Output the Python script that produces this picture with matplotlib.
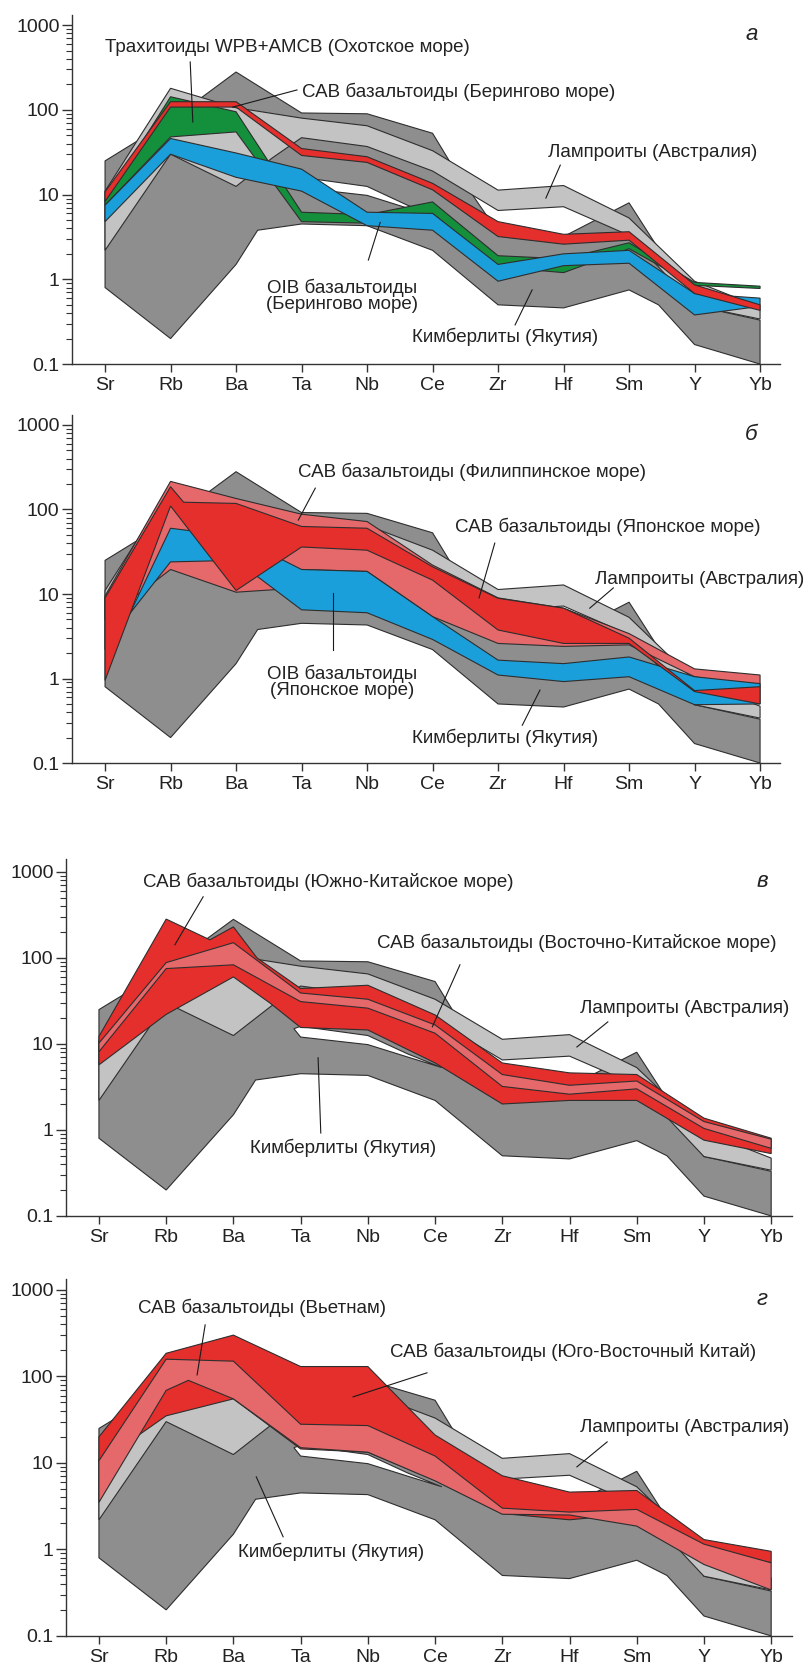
import matplotlib
matplotlib.use("Agg")
import matplotlib.pyplot as plt
from matplotlib.ticker import FixedLocator, FixedFormatter, NullFormatter

plt.rcParams['font.family'] = ['Liberation Sans', 'DejaVu Sans']

# Spider diagram, elements on the x axis
elements = ["Sr", "Rb", "Ba", "Ta", "Nb", "Ce", "Zr", "Hf", "Sm", "Y", "Yb"]
pos = list(range(len(elements)))

# Reference fields, same in every panel
# Kimberlites (Yakutia) - dark grey envelope
kimb_up_x = [0, 1, 2, 3, 4, 5, 5.27, 6, 7, 8, 8.5, 9, 10]
kimb_up = [25, 75, 280, 92, 90, 53, 24, 3.6, 3.2, 8.0, 2.0, 0.49, 0.33]
kimb_lo_x = [0, 1, 2, 2.33, 3, 4, 5, 6, 7, 8, 8.45, 9, 10]
kimb_lo = [0.8, 0.2, 1.5, 3.8, 4.5, 4.3, 2.2, 0.5, 0.46, 0.75, 0.5, 0.17, 0.1]

# unfilled sliver inside the kimberlite field
gap_x = [2.9, 3, 4, 4.6, 5.1]
gap_up = [15, 16, 12.5, 7.6, 5.3]
gap_lo = [15, 12, 9.8, 7.0, 5.3]

# Lamproites (Australia) - light grey
lamp_up = [11, 180, 106, 80, 65, 33, 11.3, 12.8, 5.3, 0.95, 0.47]
lamp_lo_x = [0, 1, 2, 2.55, 3, 4, 5, 6, 7, 8, 9, 10]
lamp_lo = [2.2, 30, 12.5, 27, 47, 37, 19, 6.5, 7.2, 3.3, 0.49, 0.34]

# Panel a
a_green_up = [8.5, 143, 95, 6.2, 5.8, 8.2, 1.9, 1.75, 2.7, 0.92, 0.83]
a_green_lo = [7.5, 48, 55, 4.8, 4.6, 6.0, 1.4, 1.2, 2.3, 0.85, 0.78]
a_blue_up = [7.5, 46, 31, 20, 6.2, 6.0, 1.5, 2.0, 2.2, 0.68, 0.6]
a_blue_lo = [4.8, 30, 16, 11, 4.3, 3.8, 0.95, 1.45, 1.55, 0.38, 0.48]
a_red_up = [10.8, 125, 125, 35, 28, 13.6, 4.8, 3.4, 3.65, 0.86, 0.5]
a_red_lo = [8.3, 108, 108, 29, 24, 11.4, 3.2, 2.6, 2.9, 0.68, 0.43]

# Panel b
b_pink_up = [9.5, 215, 135, 88, 72, 22, 9, 6.8, 3.4, 1.3, 1.1]
b_pink_lo_x = [0, 1, 2, 2.62, 3, 4, 5, 6, 7, 8, 9, 10]
b_pink_lo = [5.0, 19.5, 10.5, 11.3, 19.5, 18.5, 5.4, 2.6, 2.4, 2.5, 1.05, 0.8]
b_blue_x = [0.38, 1, 2, 3, 4, 5, 6, 7, 8, 9, 10]
b_blue_up = [5.9, 60, 48, 19.5, 18.5, 5.4, 1.65, 1.5, 1.8, 1.05, 0.87]
b_blue_lo = [5.9, 24, 25, 6.5, 6.0, 2.9, 1.1, 0.92, 1.05, 0.49, 0.5]
b_red_up_x = [0, 1, 1.2, 2, 3, 4, 5, 6, 7, 8, 9, 10]
b_red_up = [9, 186, 122, 118, 63, 60, 21, 8.9, 6.8, 3.0, 0.72, 0.8]
b_red_lo = [0.95, 110, 11, 36, 33, 14.6, 3.75, 2.6, 2.6, 0.7, 0.5]

# Panel c
c_red_up_x = [0, 1, 1.65, 2, 2.35, 3, 4, 5, 6, 7, 8, 9, 10]
c_red_up = [12.2, 282, 162, 229, 100, 44, 48, 21.7, 6.0, 4.6, 4.4, 1.37, 0.8]
c_red_lo_x = [0, 1, 2, 2.54, 3, 4, 5, 6, 7, 8, 9, 10]
c_red_lo = [5.7, 22, 60, 30, 15.5, 14.5, 6.0, 2.0, 2.2, 2.2, 0.76, 0.53]
c_pink_up = [10.2, 88, 150, 39, 33, 16.6, 4.4, 3.3, 3.7, 1.25, 0.78]
c_pink_lo = [8.1, 75, 83, 31, 26, 13.3, 3.2, 2.6, 3.0, 1.04, 0.61]

# Panel d
d_red_up = [20, 185, 300, 130, 130, 21, 7.1, 4.6, 4.8, 1.3, 0.95]
d_red_lo = [10, 35, 55, 14.5, 13.3, 6.3, 2.6, 2.2, 2.6, 1.05, 0.7]
d_pink_up = [10.6, 158, 150, 28, 27, 12, 3.0, 2.7, 2.9, 1.15, 0.7]
d_pink_lo_x = [0, 1, 1.33, 2, 3, 4, 5, 6, 7, 8, 9, 10]
d_pink_lo = [3.5, 69, 90, 55, 15, 13.3, 6.2, 2.55, 2.5, 1.86, 0.67, 0.34]

# colours
DARK = "#8e8e8e"
LIGHT = "#c3c3c3"
RED = "#e42f2c"
PINK = "#e5686b"
GREEN = "#14903c"
BLUE = "#1a9fdb"
EDGE = "#2e2e2e"
TXT = "#222222"


def field(ax, xu, yu, xl, yl, color, z):
    xs = list(xu) + list(xl)[::-1]
    ys = list(yu) + list(yl)[::-1]
    ax.fill(xs, ys, facecolor=color, edgecolor=EDGE, linewidth=0.8, zorder=z)


def base_fields(ax):
    field(ax, kimb_up_x, kimb_up, kimb_lo_x, kimb_lo, DARK, 1)
    field(ax, gap_x, gap_up, gap_x, gap_lo, "white", 1.5)
    field(ax, pos, lamp_up, lamp_lo_x, lamp_lo, LIGHT, 2)


panels = [
    [(pos, a_green_up, pos, a_green_lo, GREEN),
     (pos, a_blue_up, pos, a_blue_lo, BLUE),
     (pos, a_red_up, pos, a_red_lo, RED)],
    [(pos, b_pink_up, b_pink_lo_x, b_pink_lo, PINK),
     (b_blue_x, b_blue_up, b_blue_x, b_blue_lo, BLUE),
     (b_red_up_x, b_red_up, pos, b_red_lo, RED)],
    [(c_red_up_x, c_red_up, c_red_lo_x, c_red_lo, RED),
     (pos, c_pink_up, pos, c_pink_lo, PINK)],
    [(pos, d_red_up, pos, d_red_lo, RED),
     (pos, d_pink_up, d_pink_lo_x, d_pink_lo, PINK)],
]

# labels: text, x, y, ha ; pointers: (x0, y0, x1, y1)
labels = [
    [("Трахитоиды WPB+AMCB (Охотское море)", 0.0, 538, "left"),
     ("САВ базальтоиды (Берингово море)", 3.01, 163, "left"),
     ("Лампроиты (Австралия)", 6.76, 31, "left"),
     ("OIB базальтоиды\n(Берингово море)", 3.62, 0.635, "center"),
     ("Кимберлиты (Якутия)", 4.69, 0.208, "left")],
    [("САВ базальтоиды (Филиппинское море)", 2.95, 278, "left"),
     ("САВ базальтоиды (Японское море)", 5.34, 62, "left"),
     ("Лампроиты (Австралия)", 7.48, 14.7, "left"),
     ("OIB базальтоиды\n(Японское море)", 3.62, 0.91, "center"),
     ("Кимберлиты (Якутия)", 4.69, 0.198, "left")],
    [("САВ базальтоиды (Южно-Китайское море)", 0.655, 765, "left"),
     ("САВ базальтоиды (Восточно-Китайское море)", 4.14, 149, "left"),
     ("Лампроиты (Австралия)", 7.16, 26, "left"),
     ("Кимберлиты (Якутия)", 2.25, 0.62, "left")],
    [("САВ базальтоиды (Вьетнам)", 0.58, 620, "left"),
     ("САВ базальтоиды (Юго-Восточный Китай)", 4.33, 192, "left"),
     ("Лампроиты (Австралия)", 7.16, 26, "left"),
     ("Кимберлиты (Якутия)", 2.07, 0.935, "left")],
]
pointers = [
    [(1.30, 368, 1.34, 72), (2.93, 172, 1.95, 108), (6.95, 22.3, 6.73, 9.1),
     (4.20, 4.7, 4.02, 1.69), (6.52, 0.75, 6.26, 0.29)],
    [(3.21, 179, 2.95, 75), (5.95, 40, 5.71, 9.0), (7.76, 11.8, 7.40, 6.8),
     (3.48, 10.3, 3.48, 2.17), (6.64, 0.73, 6.37, 0.28)],
    [(1.55, 512, 1.13, 142), (5.37, 83, 4.96, 15.8), (7.57, 18, 7.11, 9.2),
     (3.26, 6.9, 3.30, 0.92)],
    [(1.58, 394, 1.46, 104), (4.88, 110, 3.78, 58), (7.56, 17.5, 7.11, 9.0),
     (2.74, 1.4, 2.34, 6.9)],
]
letters = ["а", "б", "в", "г"]

fig = plt.figure(figsize=(8.04, 16.7), dpi=100)
rects = [
    (0.0896, 0.7820, 0.8806, 0.2090),
    (0.0896, 0.5431, 0.8806, 0.2084),
    (0.0821, 0.2719, 0.9030, 0.2138),
    (0.0821, 0.0204, 0.9030, 0.2138),
]
ytops = [1318, 1313, 1413, 1340]
xlims = [(-0.504, 10.305), (-0.504, 10.305), (-0.49, 10.31), (-0.49, 10.31)]

yticks = [0.1, 1, 10, 100, 1000]
yminor = [m * 10.0 ** e for e in range(-1, 3) for m in range(2, 10)]

for i, rect in enumerate(rects):
    ax = fig.add_axes(rect)
    ax.set_yscale("log")
    base_fields(ax)
    for k, (xu, yu, xl, yl, col) in enumerate(panels[i]):
        field(ax, xu, yu, xl, yl, col, 3 + k)

    for txt, x, y, ha in labels[i]:
        ax.text(x, y, txt, ha=ha, va="center", fontsize=13.5, color=TXT,
                linespacing=0.95, zorder=10)
    for x0, y0, x1, y1 in pointers[i]:
        ax.plot([x0, x1], [y0, y1], color="#1a1a1a", lw=0.8, zorder=11)
    ax.text(9.87, 766, letters[i], ha="center", va="center", fontsize=16,
            style="italic", color=TXT, zorder=10)

    ax.set_xlim(*xlims[i])
    ax.set_ylim(0.1, ytops[i])
    ax.set_xticks(pos)
    ax.set_xticklabels(elements)
    ax.yaxis.set_major_locator(FixedLocator(yticks))
    ax.yaxis.set_major_formatter(FixedFormatter(["0.1", "1", "10", "100", "1000"]))
    ax.yaxis.set_minor_locator(FixedLocator(yminor))
    ax.yaxis.set_minor_formatter(NullFormatter())

    for s in ("top", "right"):
        ax.spines[s].set_visible(False)
    for s in ("left", "bottom"):
        ax.spines[s].set_linewidth(1.0)
        ax.spines[s].set_color("#333333")
        ax.spines[s].set_zorder(12)
    ax.tick_params(axis="y", which="major", length=7, width=1.0, labelsize=14,
                   pad=2, colors="#333333", labelcolor=TXT)
    ax.tick_params(axis="y", which="minor", length=4, width=0.8, colors="#333333")
    ax.tick_params(axis="x", length=6, width=1.0, labelsize=14, pad=3.5,
                   colors="#333333", labelcolor=TXT)
    ax.set_facecolor("white")

fig.savefig("out.png", dpi=100)
